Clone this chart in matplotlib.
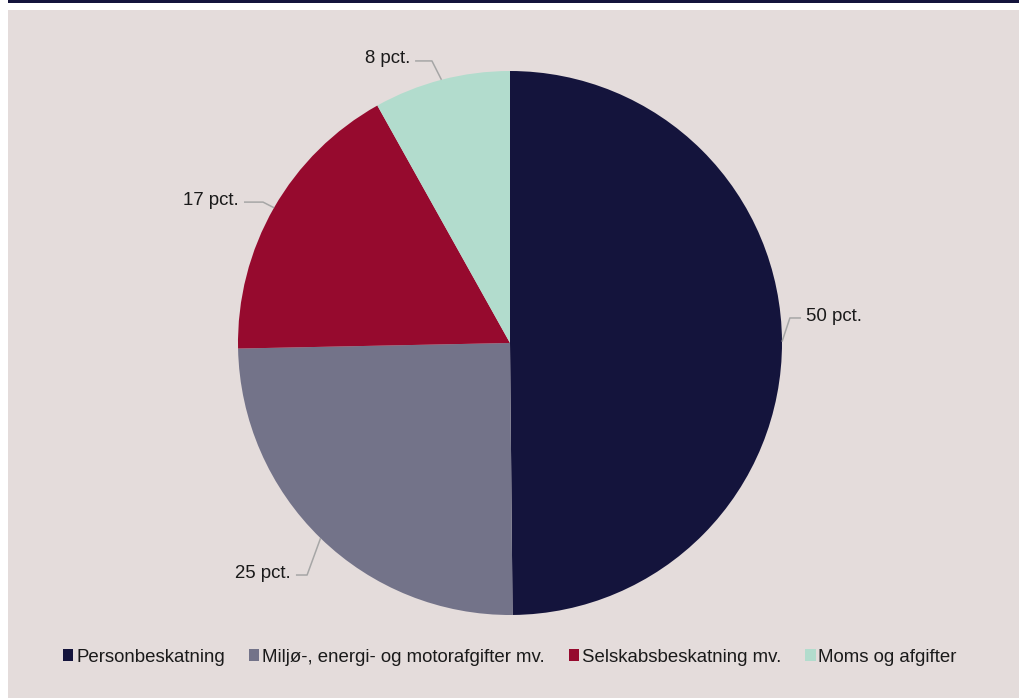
import numpy as np
import matplotlib.pyplot as plt
from matplotlib.patches import Patch, Rectangle

plt.rcParams['font.family'] = ['Liberation Sans', 'DejaVu Sans']

# Data
categories = ["Personbeskatning", "Miljø-, energi- og motorafgifter mv.",
              "Selskabsbeskatning mv.", "Moms og afgifter"]
shares = [49.8, 24.8, 17.2, 8.1]
labels = ["50 pct.", "25 pct.", "17 pct.", "8 pct."]
colors = ["#14143C", "#737389", "#960A2E", "#B2DCCD"]

bg = "#E4DCDB"
line_col = "#A6A6A6"
fs = 13.4

fig = plt.figure(figsize=(10.2, 6.98), dpi=100)
fig.patch.set_facecolor("white")

# background panel and top rule
fig.patches.append(Rectangle((8 / 1020, 0), 1 - 8 / 1020, 1 - 10 / 698,
                             transform=fig.transFigure, facecolor=bg,
                             edgecolor="none", zorder=-10))
fig.patches.append(Rectangle((8 / 1020, 1 - 2.5 / 698), 1 - 8 / 1020, 2.5 / 698,
                             transform=fig.transFigure, facecolor="#14143C",
                             edgecolor="none", zorder=-10))

ax = fig.add_axes([238 / 1020, 83 / 698, 544 / 1020, 544 / 698])
ax.set_facecolor("none")
ax.set_zorder(5)
wedges, _ = ax.pie(shares, colors=colors, startangle=90, counterclock=False,
                   radius=1, wedgeprops=dict(linewidth=0))
ax.set_xlim(-1, 1)
ax.set_ylim(-1, 1)
ax.set_aspect("equal")
ax.axis("off")

# leader line elbows (layout): (elbow x, elbow y, end x, side)
elbows = [(1.029, 0.092, 1.070, "left"),
          (-0.746, -0.853, -0.787, "right"),
          (-0.908, 0.518, -0.978, "right"),
          (-0.287, 1.037, -0.349, "right")]

for w, lab, (ex, ey, hx, side) in zip(wedges, labels, elbows):
    mid = np.deg2rad((w.theta1 + w.theta2) / 2)
    sx, sy = np.cos(mid), np.sin(mid)
    ax.plot([sx, ex, hx], [sy, ey, ey], color=line_col, lw=1.1,
            clip_on=False, solid_capstyle="butt")
    if side == "left":
        ax.text(hx + 0.018, ey - 0.024, lab, ha="left", va="bottom",
                fontsize=fs, color="#1A1A1A")
    else:
        ax.text(hx - 0.018, ey - 0.024, lab, ha="right", va="bottom",
                fontsize=fs, color="#1A1A1A")

handles = [Patch(facecolor=c, edgecolor="none") for c in colors]
fig.legend(handles, categories, loc="center", bbox_to_anchor=(0.5, 1 - 657 / 698),
           ncol=4, frameon=False, fontsize=fs, handlelength=0.55,
           handleheight=0.55, handletextpad=0.15, columnspacing=1.3,
           labelcolor="#1A1A1A")

fig.savefig("out.png", dpi=100, facecolor=fig.get_facecolor())
